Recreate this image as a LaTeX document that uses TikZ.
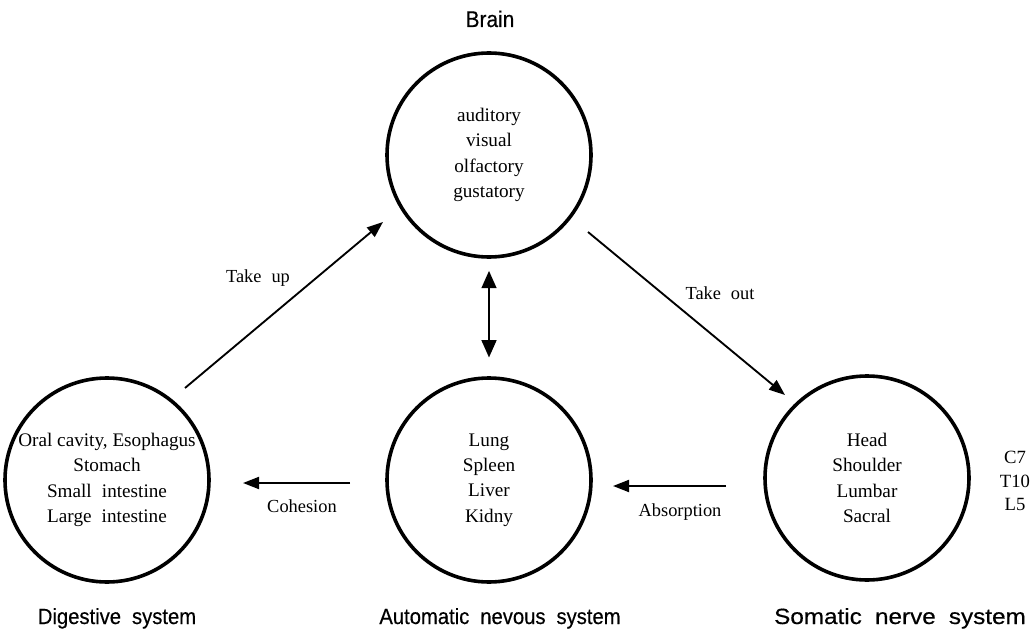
\documentclass[tikz,border=0pt]{standalone}
\usepackage{fontspec}
\setmainfont{Liberation Serif}
\newfontfamily\lblfont[FakeStretch=0.92,FakeBold=0.4]{Liberation Sans}
\usetikzlibrary{arrows.meta}
\begin{document}
\begin{tikzpicture}[x=0.75pt,y=-0.75pt,
  sys/.style={circle, draw, line width=2.7pt, minimum size=153pt, inner sep=0pt,
    align=center, font=\fontsize{14.4}{19}\selectfont},
  lbl/.style={anchor=base, font=\lblfont\fontsize{16.5}{20}\selectfont},
  txt/.style={font=\fontsize{13.8}{17}\selectfont, align=center},
  arr/.style={-{Triangle[length=12pt,width=9pt]}, line width=1.4pt},
  darr/.style={{Triangle[length=13pt,width=11pt]}-{Triangle[length=13pt,width=11pt]}, line width=1.8pt},
]
\useasboundingbox (0,0) rectangle (1035,631);

% circles
\node[sys] (brain) at (489,155) {auditory\\visual\\olfactory\\gustatory};
\node[sys] (dig) at (107,480) {Oral cavity, Esophagus\\Stomach\\Small\hspace{4pt} intestine\\Large\hspace{4pt} intestine};
\node[sys] (ans) at (489,480) {Lung\\Spleen\\Liver\\Kidny};
\node[sys] (sns) at (867,478) {Head\\Shoulder\\Lumbar\\Sacral};

% system labels
\node[lbl, font=\lblfont\fontsize{17}{20}\selectfont] (lbrain) at (490,27) {Brain};
\node[lbl] (ldig) at (117,624) {Digestive\hspace{4pt} system};
\node[lbl] (lans) at (500,624) {Automatic\hspace{4pt} nevous\hspace{4pt} system};
\node[lbl] (lsns) at (900,624) {\scalebox{1.2}[1]{Somatic\hspace{4pt} nerve\hspace{4pt} system}};

% vertebra levels
\node[txt, font=\fontsize{14}{17.6}\selectfont] (levels) at (1015,481) {C7\\T10\\L5};

% connectors
\coordinate (tu1) at (185,388);
\coordinate (tu2) at (383,222);
\draw[arr] (tu1) -- (tu2);
\node[txt] (ltu) at (258,278) {Take\hspace{4pt} up};

\coordinate (to1) at (588,232);
\coordinate (to2) at (785,395);
\draw[arr] (to1) -- (to2);
\node[txt] (lto) at (720,293) {Take\hspace{4pt} out};

\draw[darr, shorten <=9pt, shorten >=14pt] (brain.south) -- (ans.north);

\coordinate (co1) at (350,483);
\coordinate (co2) at (243,483);
\draw[arr] (co1) -- (co2);
\node[txt] (lco) at (302,506) {Cohesion};

\coordinate (ab1) at (726,486);
\coordinate (ab2) at (613,486);
\draw[arr] (ab1) -- (ab2);
\node[txt] (lab) at (680,512) {Absorption};
\end{tikzpicture}
\end{document}
